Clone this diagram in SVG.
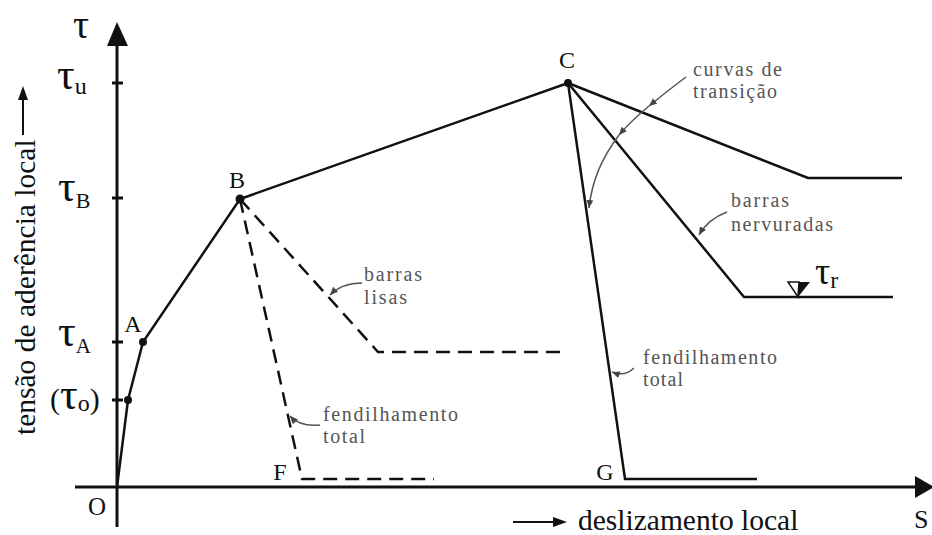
<svg xmlns="http://www.w3.org/2000/svg" width="932" height="535" viewBox="0 0 932 535">
<style>
.ax{stroke:#111;stroke-width:3;fill:none}
.cv{stroke:#111;stroke-width:2.5;fill:none;stroke-linejoin:miter}
.ds{stroke:#111;stroke-width:2.5;fill:none;stroke-dasharray:14 8}
.ld{stroke:#555;stroke-width:1.5;fill:none}
.lb{font-family:"Liberation Serif","Times New Roman",serif;fill:#111}
.gl{font-family:"Liberation Serif","Times New Roman",serif;fill:#555;font-size:20px}
.pt{fill:#111}
</style>
<defs>
<marker id="ah" markerUnits="userSpaceOnUse" markerWidth="10" markerHeight="8" refX="8" refY="3.5" orient="auto">
<path d="M0,0 L8,3.5 L0,7 z" fill="#444"/>
</marker>
</defs>
<rect width="932" height="535" fill="#fff"/>
<g id="axes">
<line class="ax" x1="117" y1="44" x2="117" y2="527"/>
<polygon points="117,22 107,46 128,46" fill="#111"/>
<line class="ax" x1="75" y1="487" x2="918" y2="487"/>
<polygon points="915,476 934,487 915,498" fill="#111"/>
<line class="ax" x1="112" y1="83" x2="123" y2="83"/>
<line class="ax" x1="112" y1="198" x2="123" y2="198"/>
<line class="ax" x1="112" y1="342" x2="123" y2="342"/>
<line class="ax" x1="112" y1="400" x2="123" y2="400"/>
<text class="lb" x="73" y="38" font-size="40">τ</text>
<text class="lb" x="57" y="89" font-size="44">τ<tspan font-size="24" dy="5">u</tspan></text>
<text class="lb" x="58" y="201" font-size="44">τ<tspan font-size="22" dy="7">B</tspan></text>
<text class="lb" x="58" y="346" font-size="44">τ<tspan font-size="21" dy="7">A</tspan></text>
<text class="lb" x="50" y="409" font-size="30">(<tspan font-size="44">τ</tspan><tspan font-size="24" dy="2">o</tspan><tspan dy="-2">)</tspan></text>
<text class="lb" x="97" y="515" font-size="25" text-anchor="middle">O</text>
<text class="lb" transform="translate(35,435) rotate(-90)" font-size="29.5">tensão de aderência local</text>
<line x1="23" y1="135" x2="23" y2="98" stroke="#111" stroke-width="2"/>
<polygon points="18,100 23,86 28,100" fill="#111"/>
<line x1="513" y1="522" x2="556" y2="522" stroke="#111" stroke-width="2"/>
<polygon points="553,517 567,522 553,527" fill="#111"/>
<text class="lb" x="578" y="530" font-size="29.5">deslizamento local</text>
<text class="lb" x="914" y="528" font-size="26">S</text>
</g>
<g id="curve-main">
<polyline class="cv" points="117,487 128,400 143,342 240,199 568,83"/>
<circle class="pt" cx="128" cy="400" r="4"/>
<circle class="pt" cx="143" cy="342" r="4"/>
<circle class="pt" cx="240" cy="199" r="4.5"/>
<circle class="pt" cx="568" cy="83" r="4"/>
<text class="lb" x="133" y="332" font-size="24" text-anchor="middle">A</text>
<text class="lb" x="237" y="188" font-size="24" text-anchor="middle">B</text>
<text class="lb" x="567" y="68" font-size="24" text-anchor="middle">C</text>
</g>
<g id="branch-upper">
<polyline class="cv" points="568,83 808,178 902,178"/>
</g>
<g id="branch-nervuradas">
<polyline class="cv" points="568,83 744,297 893,297"/>
<polygon points="788,282 799,282 798,297" fill="#fff" stroke="#111" stroke-width="1.5"/>
<polygon points="799,282 810,282 798,297" fill="#111"/>
<text class="lb" x="815" y="284" font-size="38">τ<tspan font-size="24" dy="4">r</tspan></text>
<text class="gl"><tspan x="731" y="207" textLength="58">barras</tspan><tspan x="731" y="231" textLength="102">nervuradas</tspan></text>
</g>
<g id="branch-G">
<polyline class="cv" points="568,83 625,479 757,479"/>
<text class="lb" x="605" y="480" font-size="24" text-anchor="middle">G</text>
<text class="gl"><tspan x="643" y="364" textLength="134">fendilhamento</tspan><tspan x="643" y="386" textLength="40">total</tspan></text>
<text class="gl"><tspan x="693" y="76" textLength="89">curvas de</tspan><tspan x="693" y="98" textLength="84">transição</tspan></text>
</g>
<g id="branch-lisas">
<polyline class="ds" points="240,199 378,352 565,352"/>
<text class="gl"><tspan x="364" y="281" textLength="58">barras</tspan><tspan x="364" y="304" textLength="43">lisas</tspan></text>
</g>
<g id="branch-F">
<polyline class="ds" points="240,199 302,479 434,479"/>
<text class="lb" x="280" y="480" font-size="24" text-anchor="middle">F</text>
<text class="gl"><tspan x="323" y="421" textLength="135">fendilhamento</tspan><tspan x="323" y="443" textLength="42">total</tspan></text>
</g>
<g id="connectors">
<path class="ld" d="M686,77 Q666,92 649,106" marker-end="url(#ah)"/>
<path class="ld" d="M649,106 Q632,120 619,135" marker-end="url(#ah)"/>
<path class="ld" d="M619,135 C602,158 592,180 589,208" marker-end="url(#ah)"/>
<path class="ld" d="M362,283 Q342,283 330,295" marker-end="url(#ah)"/>
<path class="ld" d="M320,425 Q300,427 290,416" marker-end="url(#ah)"/>
<path class="ld" d="M727,212 Q708,219 699,235" marker-end="url(#ah)"/>
<path class="ld" d="M634,368 Q625,377 612,372" marker-end="url(#ah)"/>
</g>
</svg>
